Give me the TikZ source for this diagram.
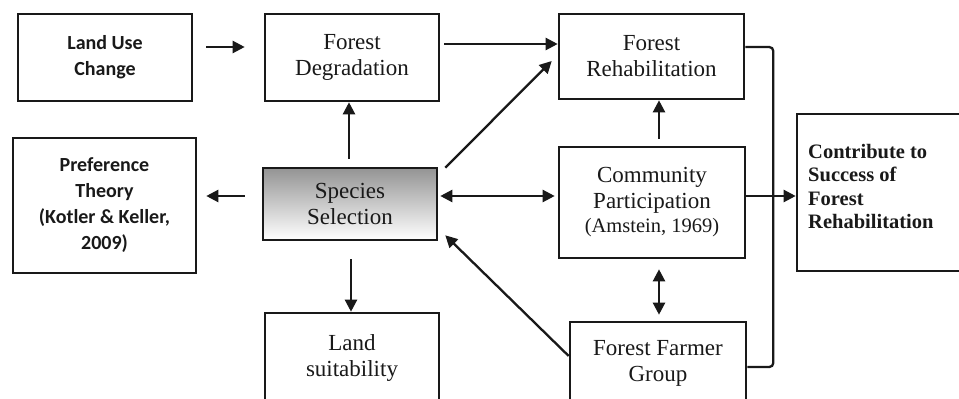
\documentclass[tikz,border=0pt]{standalone}
\usepackage{fontspec}
\setmainfont{Liberation Serif}
\newfontfamily\carlito{Carlito}
\usetikzlibrary{arrows.meta}
\begin{document}
\begin{tikzpicture}[x=1pt,y=-1pt,
  box/.style={draw=black!90, line width=2.6pt, inner sep=0pt, align=center, text=black!90},
  serif/.style={font=\fontsize{23}{26}\selectfont},
  sansb/.style={font=\carlito\bfseries\fontsize{20}{26}\selectfont},
  link/.style={line width=2.3pt, draw=black!90},
  arr/.style={link, -{Triangle[length=12pt,width=12pt]}},
  darr/.style={link, {Triangle[length=12pt,width=12pt]}-{Triangle[length=12pt,width=12pt]}},
]
\clip (0,0) rectangle (959,399);
\fill[white] (0,0) rectangle (959,399);

\node[box, sansb, minimum width=174pt, minimum height=87pt] (luc) at (105,57.5) {Land Use\\Change};
\node[box, serif, minimum width=174pt, minimum height=87pt] (fd) at (352,57.5) {Forest\\Degradation};
\node[box, serif, minimum width=185pt, minimum height=85pt] (fr) at (651.5,56.5) {Forest\\Rehabilitation};
\node[box, sansb, minimum width=183pt, minimum height=135pt] (pt) at (104.5,205.5) {Preference\\Theory\\(Kotler \& Keller,\\2009)};
\node[box, serif, minimum width=174pt, minimum height=72pt, top color=black!42, bottom color=white] (ss) at (350,204) {Species\\Selection};
\node[box, serif, minimum width=186pt, minimum height=111pt] (cp) at (652,202.5) {Community\\Participation\\[-2pt]{\fontsize{20.5}{24}\selectfont (Amstein, 1969)}};
\node[box, minimum width=168pt, minimum height=157pt] (cs) at (881,192.5) {};
\node[anchor=north west, align=left, inner sep=0pt, text=black!90, font=\bfseries\fontsize{20.5}{23.5}\selectfont] (cst) at (808,144) {Contribute to\\Success of\\Forest\\Rehabilitation};
\node[box, serif, minimum width=174pt, minimum height=89pt] (ls) at (352,357.5) {Land\\suitability};
\node[box, serif, minimum width=176pt, minimum height=83pt] (ffg) at (658,363.5) {Forest Farmer\\Group};

\draw[arr] ([xshift=13pt,yshift=10.5pt]luc.east) -- ([xshift=-19pt,yshift=10.5pt]fd.west);
\draw[arr, shorten <=4pt] ([yshift=13.5pt]fd.east) -- ([yshift=13.5pt]fd.east -| fr.west);
\draw[arr, shorten <=8pt] ([xshift=-1pt]ss.north) -- ([xshift=-1pt]ss.north |- fd.south);
\draw[arr, shorten <=17pt, shorten >=9pt] ([yshift=8pt]ss.west) -- ([yshift=8pt]ss.west -| pt.east);
\draw[darr, shorten <=2pt, shorten >=3pt] ([yshift=8pt]ss.east) -- ([yshift=8pt]ss.east -| cp.west);
\draw[arr] ([xshift=7pt,yshift=-1pt]ss.north east) -- ([xshift=-6pt,yshift=-4.5pt]fr.west);
\draw[arr, shorten <=18pt] ([xshift=1pt]ss.south) -- ([xshift=1pt]ss.south |- ls.north);
\draw[arr, shorten <=7pt] ([xshift=7pt]cp.north) -- ([xshift=7pt]cp.north |- fr.south);
\draw[darr, shorten <=10pt, shorten >=6pt] ([xshift=7pt]cp.south) -- ([xshift=7pt]cp.south |- ffg.north);
\draw[arr] ([yshift=7.5pt]ffg.west) -- ([xshift=7pt,yshift=6pt]ss.south east);
\draw[link, rounded corners=4pt] ([yshift=9.5pt]fr.east) -- ++(28,0) |- ([yshift=-3.5pt]ffg.east);
\draw[arr] ([yshift=6.5pt]cp.east) -- ([yshift=6.5pt]cp.east -| cs.west);
\end{tikzpicture}
\end{document}
